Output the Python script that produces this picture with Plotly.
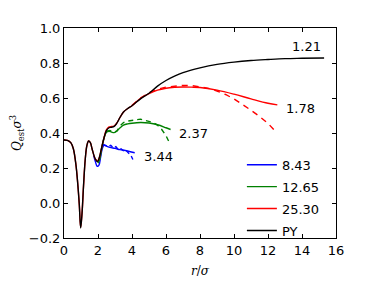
import plotly.graph_objects as go

# PY (black)
r_py = [0, 0.2, 0.4, 0.55, 0.7, 0.8, 0.9, 0.98, 1.06, 1.15, 1.25, 1.35, 1.45, 1.55, 1.65, 1.75, 1.85, 1.97, 2.08, 2.2, 2.35, 2.5, 2.65, 2.8, 2.95, 3.1, 3.3, 3.5, 3.75, 4.0, 4.5, 5.0, 5.5, 6.0, 6.5, 7.0, 8.0, 9.0, 10.0, 11.0, 12.0, 13.0, 14.0, 15.3]
q_py = [0.36, 0.358, 0.345, 0.31, 0.22, 0.12, -0.01, -0.143, -0.06, 0.1, 0.25, 0.33, 0.354, 0.345, 0.31, 0.275, 0.25, 0.236, 0.26, 0.31, 0.37, 0.415, 0.43, 0.433, 0.438, 0.455, 0.49, 0.52, 0.54, 0.556, 0.595, 0.627, 0.668, 0.70, 0.725, 0.745, 0.772, 0.792, 0.805, 0.814, 0.82, 0.825, 0.827, 0.829]

# 25.30 (red)
r_red = [0, 0.2, 0.4, 0.55, 0.7, 0.8, 0.9, 0.98, 1.06, 1.15, 1.25, 1.35, 1.45, 1.55, 1.65, 1.75, 1.85, 1.97, 2.08, 2.2, 2.35, 2.5, 2.65, 2.8, 2.95, 3.1, 3.3, 3.5, 3.75, 4.0, 4.5, 5.0, 5.5, 6.0, 6.5, 7.0, 7.5, 8.0, 9.0, 10.0, 11.0, 12.0, 12.55]
q_red = [0.36, 0.358, 0.345, 0.31, 0.22, 0.12, -0.01, -0.14, -0.06, 0.1, 0.25, 0.33, 0.354, 0.345, 0.31, 0.275, 0.25, 0.24, 0.26, 0.31, 0.37, 0.42, 0.435, 0.437, 0.44, 0.456, 0.49, 0.52, 0.54, 0.556, 0.598, 0.625, 0.645, 0.656, 0.661, 0.663, 0.662, 0.66, 0.645, 0.622, 0.595, 0.57, 0.561]
r_red_d = [4.0, 4.5, 5.0, 5.5, 6.0, 6.5, 7.0, 7.5, 8.0, 8.5, 9.0, 9.5, 10.0, 10.5, 11.0, 11.5, 12.0, 12.4]
q_red_d = [0.558, 0.6, 0.63, 0.65, 0.662, 0.668, 0.672, 0.671, 0.665, 0.655, 0.64, 0.62, 0.595, 0.565, 0.53, 0.495, 0.455, 0.413]

# 12.65 (green)
r_grn = [2.0, 2.1, 2.2, 2.35, 2.5, 2.65, 2.8, 2.95, 3.1, 3.3, 3.5, 3.75, 4.0, 4.5, 5.0, 5.5, 6.0, 6.27]
q_grn = [0.228, 0.25, 0.3, 0.37, 0.405, 0.41, 0.405, 0.402, 0.41, 0.43, 0.445, 0.452, 0.456, 0.46, 0.457, 0.447, 0.43, 0.42]
r_grn_d = [2.5, 2.7, 2.9, 3.1, 3.3, 3.5, 3.75, 4.0, 4.25, 4.5, 4.75, 5.0, 5.25, 5.5, 5.75, 6.0, 6.2]
q_grn_d = [0.41, 0.415, 0.405, 0.41, 0.44, 0.46, 0.468, 0.473, 0.478, 0.479, 0.472, 0.468, 0.46, 0.445, 0.42, 0.385, 0.345]

# 8.43 (blue)
r_blu = [1.75, 1.85, 1.95, 2.05, 2.15, 2.25, 2.35, 2.5, 2.7, 3.0, 3.3, 3.6, 3.9, 4.16]
q_blu = [0.27, 0.235, 0.21, 0.215, 0.26, 0.31, 0.33, 0.325, 0.318, 0.312, 0.305, 0.3, 0.293, 0.287]
r_blu_d = [2.3, 2.45, 2.6, 2.75, 2.9, 3.05, 3.2, 3.35, 3.5, 3.65, 3.8, 3.95, 4.1]
q_blu_d = [0.335, 0.33, 0.322, 0.33, 0.315, 0.322, 0.305, 0.31, 0.298, 0.3, 0.285, 0.27, 0.238]

labels = ["8.43", "12.65", "25.30", "PY"]
end_labels = ["3.44", "2.37", "1.78", "1.21"]

BLUE, GREEN, RED, BLACK = "#0000ff", "#008000", "#ff0000", "#000000"

fig = go.Figure()
lw = 1.4
fig.add_trace(go.Scatter(x=r_blu_d, y=q_blu_d, mode="lines", line=dict(color=BLUE, width=lw, dash="4px,3px"), showlegend=False))
fig.add_trace(go.Scatter(x=r_grn_d, y=q_grn_d, mode="lines", line=dict(color=GREEN, width=lw, dash="5px,4px"), showlegend=False))
fig.add_trace(go.Scatter(x=r_red_d, y=q_red_d, mode="lines", line=dict(color=RED, width=lw, dash="6px,5px"), showlegend=False))
fig.add_trace(go.Scatter(x=r_blu, y=q_blu, mode="lines", line=dict(color=BLUE, width=lw, shape="spline"), name=labels[0], legendgroup="a"))
fig.add_trace(go.Scatter(x=r_grn, y=q_grn, mode="lines", line=dict(color=GREEN, width=lw, shape="spline"), name=labels[1], legendgroup="b"))
fig.add_trace(go.Scatter(x=r_red, y=q_red, mode="lines", line=dict(color=RED, width=lw, shape="spline"), name=labels[2], legendgroup="c"))
fig.add_trace(go.Scatter(x=r_py, y=q_py, mode="lines", line=dict(color=BLACK, width=lw, shape="spline"), name=labels[3], legendgroup="d"))

font = "DejaVu Sans"
# end labels placed next to the curve ends
ann_pos = [(r_blu[-1], q_blu[-1], 7, -4), (r_grn[-1], q_grn[-1], 6, -4), (r_red[-1], q_red[-1], 7, -4), (r_py[-1], q_py[-1], -34, 11)]
for (x, y, dx, dy), t in zip(ann_pos, end_labels):
    fig.add_annotation(x=x, y=y, text=t, showarrow=False, xanchor="left", yanchor="middle",
                       xshift=dx, yshift=dy, font=dict(size=13, color="black", family=font))

axis_common = dict(showline=True, linecolor="black", linewidth=1, mirror="ticks", ticks="inside",
                   ticklen=4, tickcolor="black", showgrid=False, zeroline=False, automargin=False,
                   tickfont=dict(size=13, color="black", family=font))
fig.update_xaxes(range=[0, 16], dtick=2, tick0=0, title=dict(text="<i>r</i>/<i>σ</i>", font=dict(size=12, family="DejaVu Serif", color="black"), standoff=10), **axis_common)
fig.update_yaxes(range=[-0.2, 1.0], dtick=0.2, tick0=0, tickformat=".1f",
                 title=dict(text="<i>Q</i><sub>est</sub><i>σ</i><sup>3</sup>", font=dict(size=12, family="DejaVu Serif", color="black"), standoff=6), **axis_common)

# page body has an 8px default margin, so the figure is sized to compensate
fig.update_layout(width=366, height=274, margin=dict(l=56, r=38, t=20, b=44),
                  paper_bgcolor="white", plot_bgcolor="white",
                  legend=dict(x=0.654, y=0.42, xanchor="left", yanchor="top", bgcolor="rgba(0,0,0,0)",
                              font=dict(size=13, family=font, color="black"), tracegroupgap=2, itemwidth=30),
                  font=dict(family=font))
fig.write_html("out.html")
